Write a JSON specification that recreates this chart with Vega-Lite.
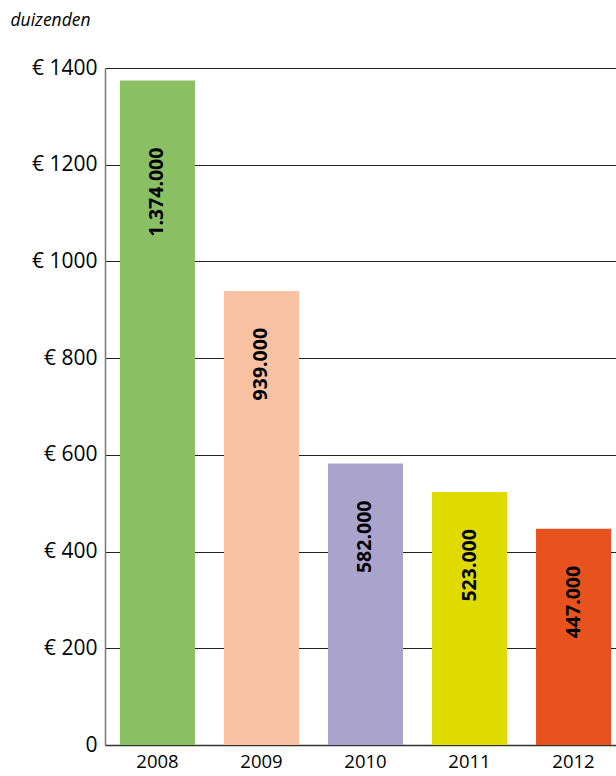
{
  "$schema": "https://vega.github.io/schema/vega-lite/v6.json",
  "autosize": "none",
  "padding": {"left": 105, "top": 68, "right": 0, "bottom": 31},
  "width": 511,
  "height": 677,
  "background": "white",
  "config": {"view": {"stroke": null}, "font": "Open Sans"},
  "data": {"values": [
    {"year": "2008", "value": 1374, "label": "1.374.000", "color": "#8BBF63"},
    {"year": "2009", "value": 939, "label": "939.000", "color": "#F8C1A1"},
    {"year": "2010", "value": 582, "label": "582.000", "color": "#AAA3CB"},
    {"year": "2011", "value": 523, "label": "523.000", "color": "#DFDA00"},
    {"year": "2012", "value": 447, "label": "447.000", "color": "#E8521F"}
  ]},
  "encoding": {
    "x": {"field": "year", "type": "nominal", "sort": null,
      "scale": {"paddingInner": 0.279, "paddingOuter": 0.096, "align": 0.75},
      "axis": {"title": null, "labelAngle": 0, "ticks": false, "domain": true, "domainColor": "#333333", "domainWidth": 1.5,
        "labelFontSize": 18.5, "labelColor": "#000000", "labelPadding": 7, "labelFont": "Open Sans"}},
    "y": {"field": "value", "type": "quantitative",
      "scale": {"domain": [0, 1400], "nice": false},
      "axis": {"values": [0, 200, 400, 600, 800, 1000, 1200, 1400],
        "labelExpr": "datum.value == 0 ? '0' : '€ ' + datum.value",
        "ticks": false, "grid": true, "gridColor": "#222222", "gridWidth": 1,
        "domain": true, "domainColor": "#777777", "domainWidth": 1.5,
        "labelFontSize": 21, "labelColor": "#000000", "labelPadding": 8, "labelFont": "Open Sans",
        "title": "duizenden", "titleAngle": 0, "titleX": -95, "titleY": -43, "titleAlign": "left",
        "titleBaseline": "alphabetic", "titleFontStyle": "italic", "titleFontWeight": "normal",
        "titleFontSize": 17.5, "titleColor": "#000000", "titleFont": "Open Sans"}}
  },
  "layer": [
    {"mark": {"type": "bar"},
     "encoding": {"color": {"field": "color", "type": "nominal", "scale": null, "legend": null}}},
    {"transform": [{"filter": "datum.year != '2008'"}],
     "mark": {"type": "text", "angle": 270, "align": "right", "baseline": "middle", "dx": -37, "fontSize": 19.5, "fontWeight": "bold", "color": "#000000", "font": "Open Sans"},
     "encoding": {"text": {"field": "label"}}},
    {"transform": [{"filter": "datum.year == '2008'"}],
     "mark": {"type": "text", "angle": 270, "align": "right", "baseline": "middle", "dx": -67, "fontSize": 19.5, "fontWeight": "bold", "color": "#000000", "font": "Open Sans"},
     "encoding": {"text": {"field": "label"}}}
  ]
}
